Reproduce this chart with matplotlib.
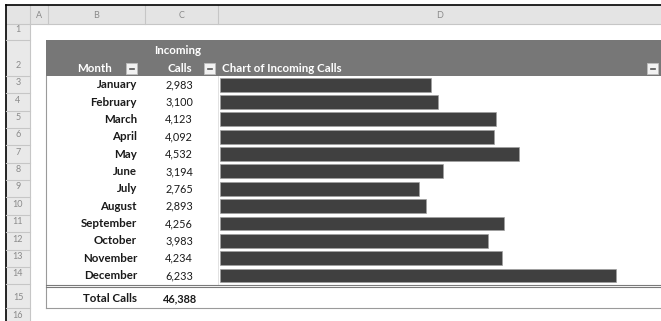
import matplotlib
matplotlib.use("Agg")
import matplotlib.pyplot as plt
from matplotlib.patches import Rectangle
import numpy as np

months = ["January", "February", "March", "April", "May", "June", "July",
          "August", "September", "October", "November", "December"]
calls = [2983, 3100, 4123, 4092, 4532, 3194, 2765, 2893, 4256, 3983, 4234, 6233]
total_label = "Total Calls"
col_letters = ["A", "B", "C", "D"]
header_month = "Month"
header_calls = ["Incoming", "Calls"]
header_chart = "Chart of Incoming Calls"

plt.rcParams['font.family'] = ['Lato', 'DejaVu Sans']

W, H = 661, 321
fig = plt.figure(figsize=(W / 100, H / 100), dpi=100)
ax = fig.add_axes([0, 0, 1, 1])
ax.set_xlim(0, W)
ax.set_ylim(H, 0)
ax.axis("off")

# geometry (pixels)
left_frame, top_frame = 6, 5
rn_right = 30
col_edges = [30, 48, 145, 218, W]
hdr_bot = 24
row1_bot = 40
row2_bot = 76
row_h = 17.35
rows_top = row2_bot
n = len(months)
rows_bot = rows_top + n * row_h
tot_top = rows_bot + 3
tot_bot = 308
row16_bot = 326

hdr_fill = "#e4e4e4"
hdr_text = "#8a8a8a"
fs_body = 8.3
fs_num = 7.8

# column header band
ax.add_patch(Rectangle((left_frame, top_frame), W - left_frame, hdr_bot - top_frame,
                       facecolor=hdr_fill, edgecolor="none"))
# row number column
ax.add_patch(Rectangle((left_frame, hdr_bot), rn_right - left_frame, H - hdr_bot,
                       facecolor="#e9e9e9", edgecolor="none"))
for x in col_edges[:-1]:
    ax.plot([x, x], [top_frame, hdr_bot], color="#c6c6c6", lw=0.8)
ax.plot([left_frame, W], [hdr_bot, hdr_bot], color="#c6c6c6", lw=0.8)
ax.plot([rn_right, rn_right], [hdr_bot, H], color="#c6c6c6", lw=0.8)
for i, L in enumerate(col_letters):
    cx = (col_edges[i] + col_edges[i + 1]) / 2
    ax.text(cx, 15, L, ha="center", va="center", fontsize=6.5, color=hdr_text)

# frame
ax.plot([left_frame, W], [top_frame, top_frame], color="black", lw=1.2)
ax.plot([left_frame, left_frame], [top_frame, H], color="black", lw=1.2)

# row numbers
row_bounds = [hdr_bot, row1_bot, row2_bot] + [rows_top + (i + 1) * row_h for i in range(n)] + [tot_bot, row16_bot]
for r in range(len(row_bounds) - 1):
    y0, y1 = row_bounds[r], row_bounds[r + 1]
    ax.plot([left_frame, rn_right], [y1, y1], color="#c6c6c6", lw=0.8)
    ax.text(18, y1 - 6, str(r + 1), ha="center", va="bottom", fontsize=6.5, color=hdr_text)

# table header band
ax.add_patch(Rectangle((46, row1_bot), W - 46, row2_bot - row1_bot,
                       facecolor="#777777", edgecolor="none"))
ax.text(94, 69, header_month, ha="center", va="center", fontsize=fs_body,
        color="white", fontweight="bold")
ax.text(178, 51, header_calls[0], ha="center", va="center", fontsize=fs_body,
        color="white", fontweight="bold")
ax.text(180, 69, header_calls[1], ha="center", va="center", fontsize=fs_body,
        color="white", fontweight="bold")
ax.text(222, 69, header_chart, ha="left", va="center", fontsize=fs_body,
        color="white", fontweight="bold")

def button(x, y):
    ax.add_patch(Rectangle((x, y), 11, 11, facecolor="#f2f2f2", edgecolor="#bdbdbd", lw=0.6))
    ax.plot([x + 3.5, x + 7.5], [y + 5.8, y + 5.8], color="#555555", lw=1.2)

button(126, 63)
button(204, 63)
button(647, 63)

# table borders
ax.plot([46, 46], [row2_bot, tot_bot], color="#9a9a9a", lw=0.8)
ax.plot([col_edges[3], col_edges[3]], [row2_bot, rows_bot], color="#dddddd", lw=0.6)
ax.plot([46, W], [rows_bot + 1, rows_bot + 1], color="#7a7a7a", lw=0.8)
ax.plot([46, W], [rows_bot + 3, rows_bot + 3], color="#7a7a7a", lw=0.8)
ax.plot([46, W], [tot_bot, tot_bot], color="#9a9a9a", lw=0.8)

# month names and values
for i, (m, v) in enumerate(zip(months, calls)):
    yc = rows_top + (i + 0.5) * row_h
    ax.text(137, yc, m, ha="right", va="center", fontsize=fs_body, fontweight="bold", color="#1a1a1a")
    ax.text(193, yc, f"{v:,}", ha="right", va="center", fontsize=fs_num, color="#1a1a1a")

ytot = (tot_top + tot_bot) / 2 + 1
ax.text(137, ytot, total_label, ha="right", va="center", fontsize=fs_body, fontweight="bold", color="#1a1a1a")
ax.text(197, ytot, f"{sum(calls):,}", ha="right", va="center", fontsize=fs_num, fontweight="bold", color="#1a1a1a")

# bar chart (data bars) on its own axes over column D
bx0 = col_edges[3]
bax = fig.add_axes([bx0 / W, 1 - rows_bot / H, (W - bx0) / W, (rows_bot - rows_top) / H])
xmin, xmax = -775, 7025
bar_base = -740
ypos = np.arange(n)
bax.barh(ypos, np.array(calls) - bar_base, left=bar_base, height=0.8,
         color="#404040", edgecolor="#a0a0a0", linewidth=0.5)
bax.set_xlim(xmin, xmax)
bax.set_ylim(n - 0.5, -0.5)
bax.axis("off")
bax.patch.set_alpha(0)

fig.savefig("out.png", dpi=100)
